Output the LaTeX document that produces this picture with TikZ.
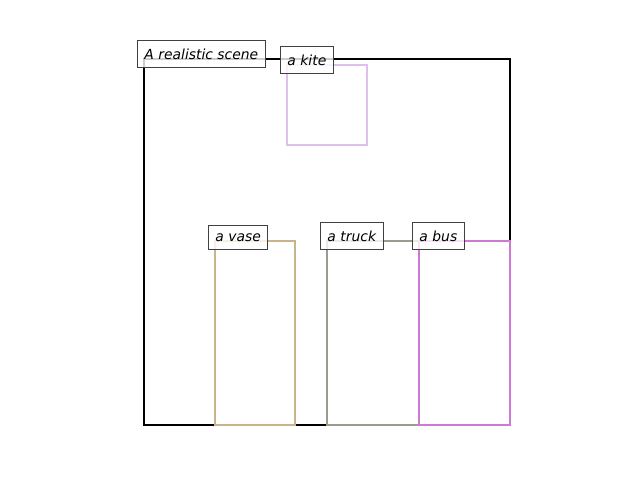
\documentclass[tikz,border=0pt]{standalone}
\usepackage{fontspec}
\setmainfont{DejaVu Sans}
\definecolor{kitecol}{RGB}{222,192,238}
\definecolor{vasecol}{RGB}{200,180,138}
\definecolor{truckcol}{RGB}{152,156,140}
\definecolor{buscol}{RGB}{206,122,212}
\tikzset{
  tag/.style={draw=black!75, fill=white, fill opacity=.8, text opacity=1,
    line width=.7pt, anchor=base west, inner xsep=5pt, inner ysep=5.7pt,
    font=\itshape\fontsize{10}{12}\selectfont, xshift=-5pt},
  box/.style={line width=1.9pt}
}
\begin{document}
\begin{tikzpicture}[x=0.72pt, y=-0.72pt]
    \useasboundingbox (0, 0) rectangle (640, 480) ;
    \draw[box, black] (144, 59) rectangle (510, 425) ;
    \draw[box, kitecol] (287, 65) rectangle (367, 145) ;
    \draw[box, vasecol] (215, 241) rectangle (295, 425) ;
    \draw[box, truckcol] (327, 241) rectangle (510, 425) ;
    \draw[box, buscol] (419, 241) rectangle (510, 425) ;
    \node[tag] (scene) at (144, 59) {A realistic scene} ;
    \node[tag] (kite) at (287, 65) {a kite} ;
    \node[tag] (vase) at (215, 241) {a vase} ;
    \node[tag] (truck) at (327, 241) {a truck} ;
    \node[tag] (bus) at (419, 241) {a bus} ;
  \end{tikzpicture}
\end{document}
